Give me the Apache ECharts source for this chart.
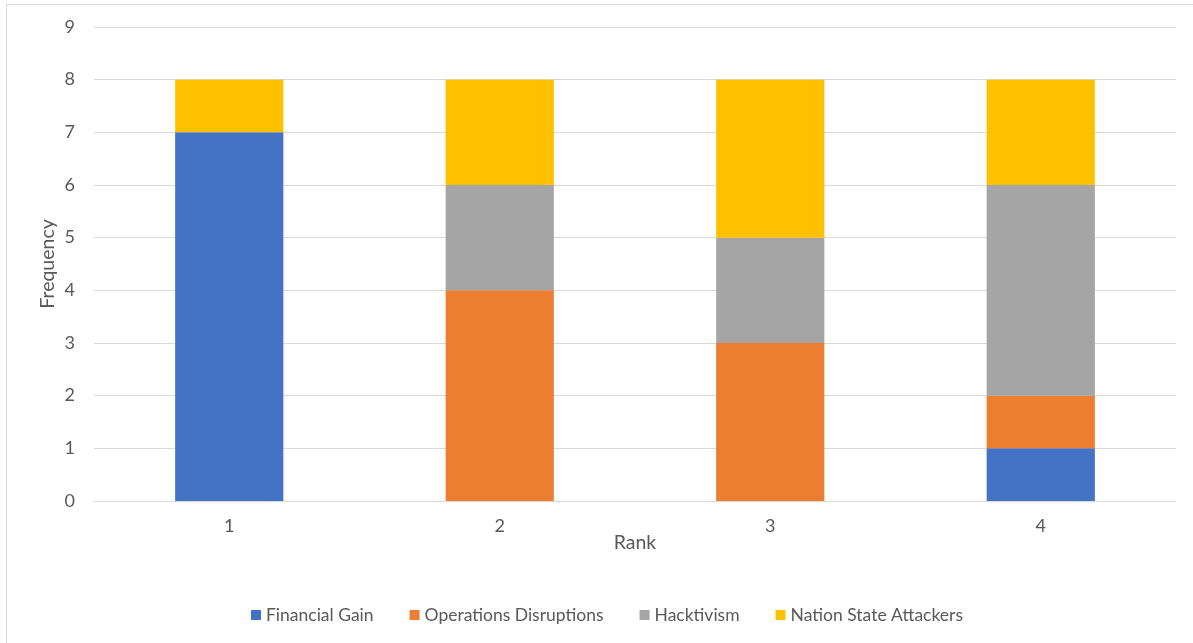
<!DOCTYPE html>
<html>
<head>
<meta charset="utf-8">
<script src="https://cdn.jsdelivr.net/npm/echarts@6/dist/echarts.min.js"></script>
<style>
  html, body { margin: 0; padding: 0; background: #fff; }
  #frame { position: absolute; left: 6px; top: 4px; width: 1200px; height: 650px; border: 1px solid #d9d9d9; box-sizing: border-box; }
  #chart { position: absolute; left: 0; top: 0; width: 1193px; height: 643px; }
</style>
</head>
<body>
<div id="frame"></div>
<div id="chart"></div>
<script>
// Rank categories and stacked frequencies per threat motive
const ranks = ['1', '2', '3', '4'];
const financialGain = [7, 0, 0, 1];
const operationsDisruptions = [0, 4, 3, 1];
const hacktivism = [0, 2, 2, 4];
const nationStateAttackers = [1, 2, 3, 2];
const yTicks = [0, 1, 2, 3, 4, 5, 6, 7, 8, 9];

const font = 'Lato, "Open Sans", sans-serif';
const textColor = '#595959';

function stackSeries(name, data, color) {
  return {
    name: name,
    type: 'bar',
    stack: 'rank',
    data: data,
    barWidth: '40%',
    itemStyle: { color: color },
    emphasis: { disabled: true }
  };
}

const chart = echarts.init(document.getElementById('chart'), null, { renderer: 'canvas' });
chart.setOption({
  animation: false,
  textStyle: { fontFamily: font },
  grid: { left: 94, right: 17, top: 27, bottom: 142, containLabel: false },
  legend: {
    top: 601,
    left: 246,
    itemWidth: 10,
    itemHeight: 10,
    itemGap: 36,
    icon: 'rect',
    textStyle: { color: textColor, fontSize: 17.5, fontFamily: font },
    data: ['Financial Gain', 'Operations Disruptions', 'Hacktivism', 'Nation State Attackers']
  },
  xAxis: {
    type: 'category',
    data: ranks,
    name: 'Rank',
    nameLocation: 'middle',
    nameGap: 32,
    nameMoveOverlap: false,
    nameTextStyle: { color: textColor, fontSize: 19.5, fontFamily: font },
    axisLine: { lineStyle: { color: '#d9d9d9', width: 1 } },
    axisTick: { show: false },
    axisLabel: { color: textColor, fontSize: 18, margin: 16, fontFamily: font }
  },
  yAxis: {
    type: 'value',
    min: yTicks[0],
    max: yTicks[yTicks.length - 1],
    interval: 1,
    name: 'Frequency',
    nameLocation: 'middle',
    nameGap: 36,
    nameMoveOverlap: false,
    nameRotate: 90,
    nameTextStyle: { color: textColor, fontSize: 19.5, fontFamily: font },
    axisLine: { show: false },
    axisTick: { show: false },
    axisLabel: { color: textColor, fontSize: 18, margin: 19, fontFamily: font },
    splitLine: { lineStyle: { color: '#d9d9d9', width: 1 } }
  },
  series: [
    stackSeries('Financial Gain', financialGain, '#4472c4'),
    stackSeries('Operations Disruptions', operationsDisruptions, '#ed7d31'),
    stackSeries('Hacktivism', hacktivism, '#a5a5a5'),
    stackSeries('Nation State Attackers', nationStateAttackers, '#ffc000')
  ]
});
</script>
</body>
</html>
